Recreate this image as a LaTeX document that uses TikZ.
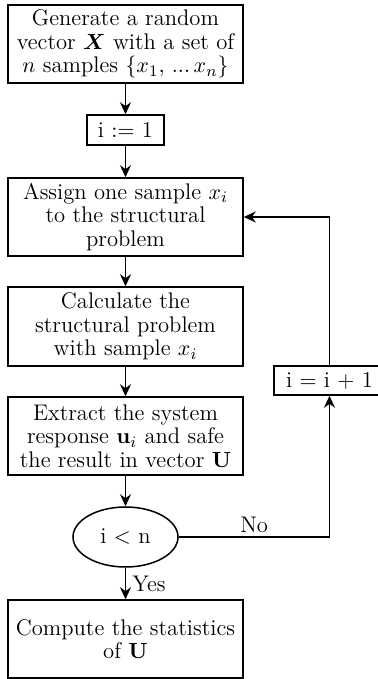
\documentclass[tikz,border=0pt]{standalone}
\usepackage{amsmath,bm}
\usetikzlibrary{arrows.meta,shapes.geometric}
\begin{document}
\begin{tikzpicture}[x=0.5pt,y=-0.5pt,
  every node/.style={font=\fontsize{11.3}{11.8}\selectfont},
  box/.style={draw,line width=0.75pt,rectangle,align=center,inner sep=0pt},
  flow/.style={line width=0.75pt,-{Stealth[length=6pt,width=5.5pt]}},
  lbl/.style={inner sep=1pt}]
\useasboundingbox (0,0) rectangle (378,679);
\node[box,minimum width=117.5pt,minimum height=39pt] (gen) at (125.5,44)
  {Generate a random\\ vector $\boldsymbol{X}$ with a set of\\ $n$ samples $\{x_1,\, ...\, x_n\}$};
\node[box,minimum width=38.5pt,minimum height=15pt] (init) at (125.5,130) {i $:=$ 1};
\node[box,minimum width=117.5pt,minimum height=39pt] (assign) at (125.5,217)
  {Assign one sample $x_i$\\ to the structural\\ problem};
\node[box,minimum width=117.5pt,minimum height=39.5pt] (calc) at (125.5,326.5)
  {Calculate the\\ structural problem\\ with sample $x_i$};
\node[box,minimum width=117.5pt,minimum height=39pt] (extract) at (125.5,436)
  {Extract the system\\ response $\mathbf{u}_i$ and safe\\ the result in vector $\mathbf{U}$};
\node[draw,line width=0.75pt,ellipse,minimum width=52.5pt,minimum height=30pt,inner sep=0pt] (cond) at (125.5,537) {i $<$ n};
\node[box,minimum width=117.5pt,minimum height=39pt] (comp) at (125.5,639)
  {Compute the statistics\\ of $\mathbf{U}$};
\node[box,minimum width=55.5pt,minimum height=14.5pt] (inc) at (329.5,380.5) {i $=$ i $+$ 1};
\draw[flow] (gen) -- (init);
\draw[flow] (init) -- (assign);
\draw[flow] (assign) -- (calc);
\draw[flow] (calc) -- (extract);
\draw[flow] (extract) -- (cond);
\draw[flow] (cond) -- node[lbl,right,pos=0.5,xshift=2pt] {Yes} (comp);
\draw[flow] (cond.east) -| node[lbl,above,pos=0.25,yshift=1pt] {No} (inc.south);
\draw[flow] (inc.north) |- (assign.east);
\end{tikzpicture}
\end{document}
